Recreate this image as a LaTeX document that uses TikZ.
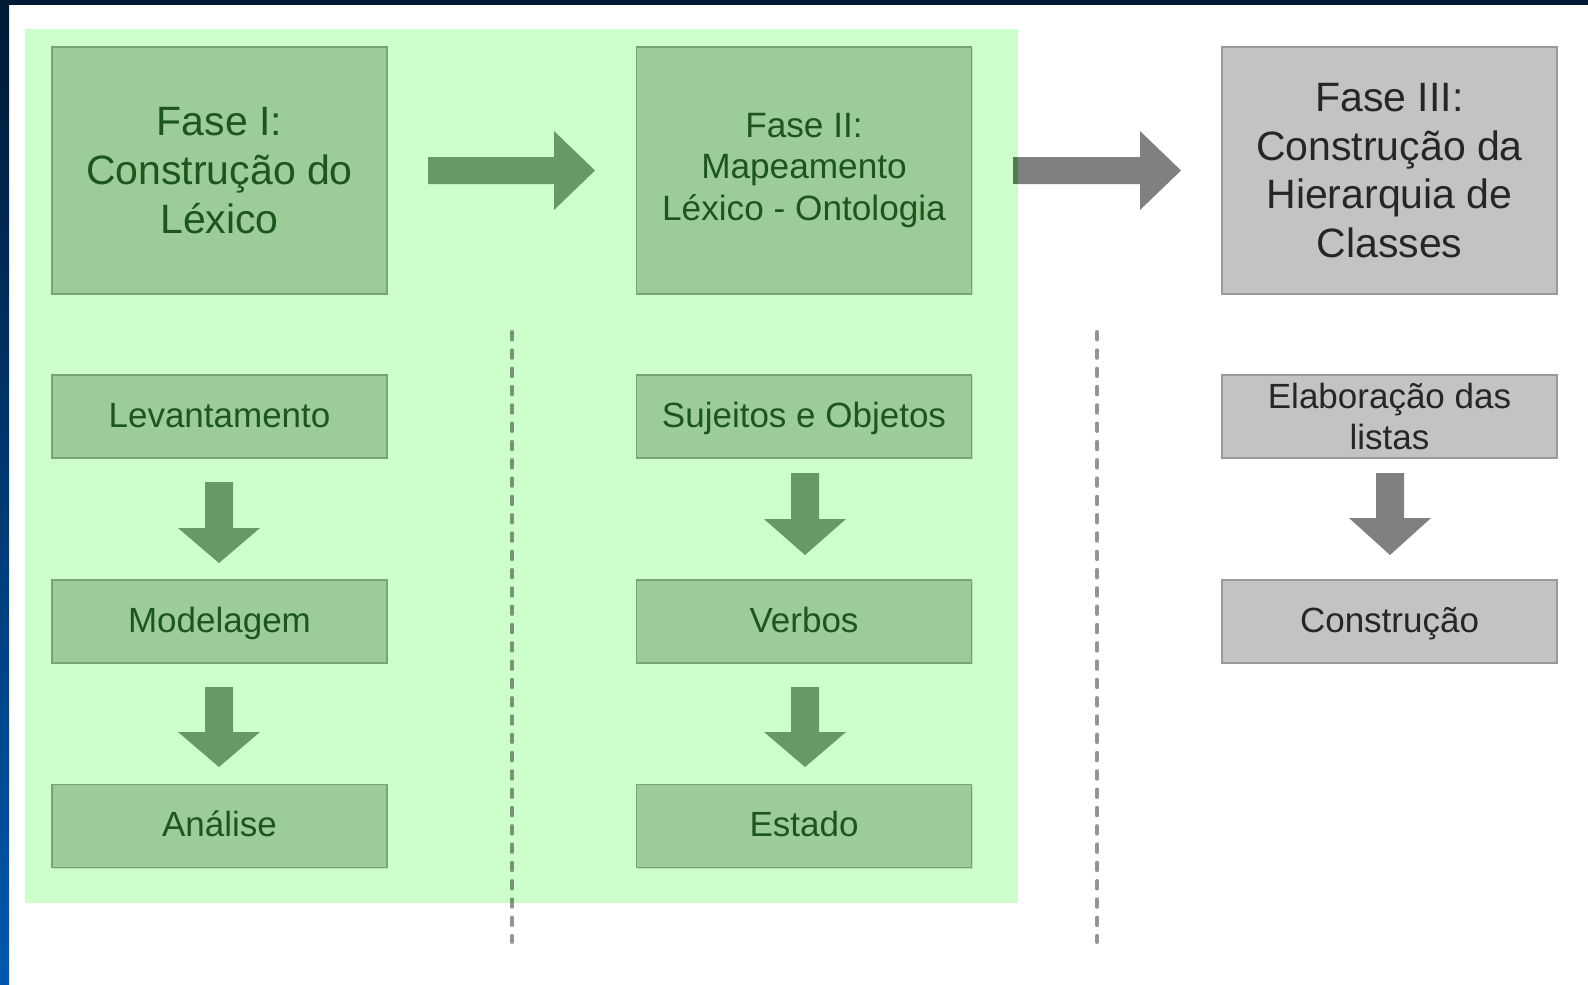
\documentclass[tikz,border=0pt]{standalone}
\usepackage{fontspec}
\setmainfont{Liberation Sans}
\usetikzlibrary{calc,shadows}
\definecolor{bgreen}{HTML}{CCFFCC}
\definecolor{boxgreen}{HTML}{9CCD99}
\definecolor{edgegreen}{HTML}{76A473}
\definecolor{txtgreen}{HTML}{1C561C}
\definecolor{arrgreen}{HTML}{679966}
\definecolor{boxgray}{HTML}{C3C3C3}
\definecolor{edgegray}{HTML}{9A9A9A}
\definecolor{arrgray}{HTML}{808080}
\definecolor{navy}{HTML}{001A36}
\definecolor{blueb}{HTML}{0058AE}
\tikzset{
  gbox/.style={draw=edgegreen, line width=1.6pt, fill=boxgreen, text=txtgreen,
    inner sep=0pt, align=center, minimum width=335pt,
    drop shadow={shadow xshift=1.2pt, shadow yshift=-1.2pt, opacity=0.25}},
  graybox/.style={draw=edgegray, line width=1.6pt, fill=boxgray, text=black!85,
    inner sep=0pt, align=center, minimum width=335pt,
    drop shadow={shadow xshift=1.2pt, shadow yshift=-1.2pt, opacity=0.25}},
  phasebox/.style={minimum height=247pt},
  subbox/.style={minimum height=83pt, font=\fontsize{35}{40.5}\selectfont},
  oneline/.style={text height=26pt, text depth=5pt},
  bigfont/.style={font=\fontsize{41}{48.6}\selectfont},
  midfont/.style={font=\fontsize{35.2}{41.5}\selectfont},
  sep/.style={line width=4pt, line cap=round, draw=black, draw opacity=0.42,
    dash pattern=on 7.5pt off 10.8pt}
}
% down block arrow: #1 colour, #2 cx, #3 top, #4 head base, #5 tip
\newcommand\blockdown[5]{%
  \fill[#1] (#2-14,#3) -- (#2+14,#3) -- (#2+14,#4) -- (#2+41,#4) -- (#2,#5)
    -- (#2-41,#4) -- (#2-14,#4) -- cycle;}
% right block arrow: #1 colour, #2 cy, #3 start, #4 head base, #5 tip
\newcommand\blockright[5]{%
  \fill[#1] (#3,#2-13.5) -- (#4,#2-13.5) -- (#4,#2-39.5) -- (#5,#2)
    -- (#4,#2+39.5) -- (#4,#2+13.5) -- (#3,#2+13.5) -- cycle;}
\begin{document}
\begin{tikzpicture}[x=1pt,y=-1pt]
\useasboundingbox (0,0) rectangle (1588,985);
\fill[white] (0,0) rectangle (1588,985);
% frame
\fill[navy] (0,0) rectangle (1588,5);
\shade[top color=navy, bottom color=blueb] (0,0) rectangle (9,985);
% gray arrow underneath green area
\blockright{arrgray}{170.5}{1013}{1140}{1181}
% green background
\fill[bgreen] (25,29) rectangle (1018,903);
\fill[arrgreen!80!black] (1013,157) rectangle (1018,184);
% separators
\draw[sep] (512,332) -- (512,942);
\draw[sep] (1097,332) -- (1097,942);
% phase boxes
\node[gbox, phasebox, bigfont] (f1) at (219.5,170.5) {Fase I:\\Construção do\\Léxico};
\node[gbox, phasebox, midfont] (f2) at (804,170.5) {Fase II:\\Mapeamento\\Léxico - Ontologia};
\node[graybox, phasebox, bigfont] (f3) at (1389.5,170.5) {Fase III:\\Construção da\\Hierarquia de\\Classes};
% column 1
\node[gbox, subbox, oneline] (lev) at (219.5,416.5) {Levantamento};
\node[gbox, subbox, oneline] (mod) at (219.5,621.5) {Modelagem};
\node[gbox, subbox, oneline] (ana) at (219.5,826) {Análise};
% column 2
\node[gbox, subbox, oneline] (suj) at (804,416.5) {Sujeitos e Objetos};
\node[gbox, subbox, oneline] (ver) at (804,621.5) {Verbos};
\node[gbox, subbox, oneline] (est) at (804,826) {Estado};
% column 3
\node[graybox, subbox] (ela) at (1389.5,416.5) {Elaboração das\\listas};
\node[graybox, subbox, oneline] (con) at (1389.5,621.5) {Construção};
% block arrows
\blockright{arrgreen}{170.5}{428}{554}{595}
\blockdown{arrgreen}{219}{482}{528}{563}
\blockdown{arrgreen}{219}{687}{732}{767}
\blockdown{arrgreen}{805}{473}{519}{555}
\blockdown{arrgreen}{805}{687}{732}{767}
\blockdown{arrgray}{1390}{473}{518}{555}
\end{tikzpicture}
\end{document}
